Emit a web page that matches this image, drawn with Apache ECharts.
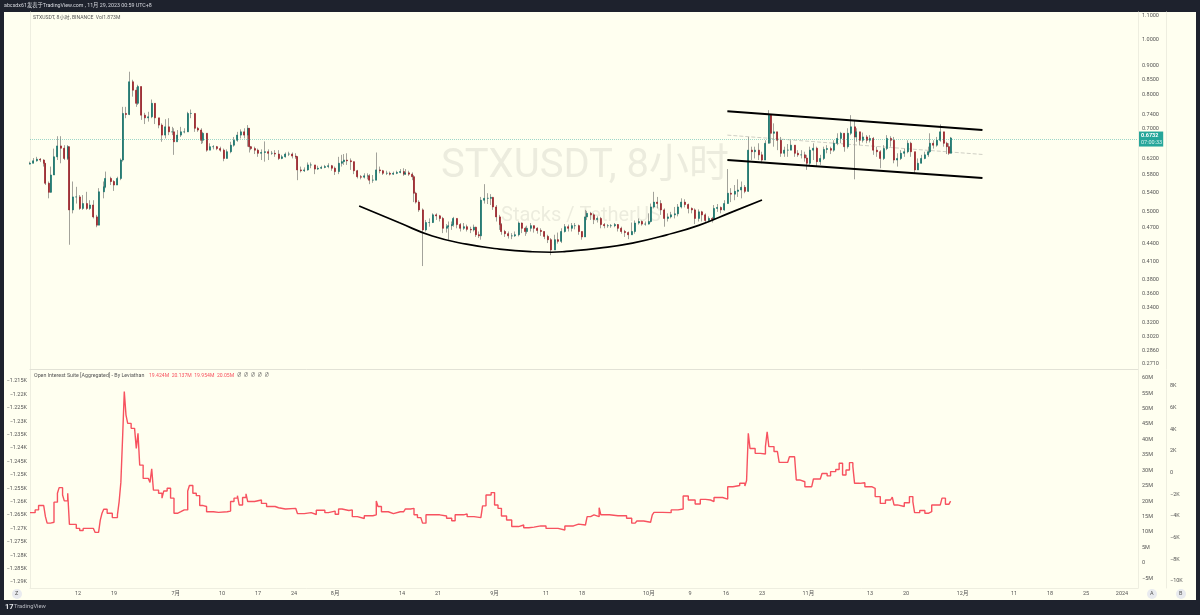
<!DOCTYPE html>
<html><head><meta charset="utf-8">
<style>html,body{margin:0;padding:0;width:1200px;height:615px;background:#1e222d;overflow:hidden}
#pane{position:absolute;left:4px;top:12px;width:1192px;height:588px;background:#fffff0}
#c{position:absolute;left:0;top:0;width:1200px;height:615px}</style>
<script src="https://cdn.jsdelivr.net/npm/echarts@6/dist/echarts.min.js"></script>
</head><body><div id="pane"></div><div id="c"></div>
<script>
// 8-hour bar numbers counted from the first bar
const barIndex=[0,2,4,6,8,9,11,12,14,16,
18,20,22,23,25,27,29,31,33,35,
37,39,40,43,44,47,49,51,53,54,
56,58,60,62,63,65,67,69,71,73,
75,77,79,81,83,84,86,88,90,92,
94,96,98,100,101,103,105,107,109,111,
113,115,117,119,121,123,125,127,128,129,
131,133,135,137,139,141,143,145,147,149,
151,153,155,156,158,160,162,164,166,168,
170,172,174,176,178,180,182,183,185,187,
189,191,193,195,197,198,200,202,204,206,
208,210,212,214,216,218,219,221,223,224,
225,227,229,231,233,235,237,239,241,243,
244,246,247,249,251,253,255,257,259,260,
262,263,265,267,269,270,272,274,275,277,
279,281,283,285,287,289,290,292,294,296,
298,300,302,304,306,308,310,312,314,316,
318,320,322,324,325,327,329,331,333,335,
337,339,341,343,345,347,349,351,353,355,
357,359,361,362,364,366,368,370,372,374,
376,378,380,382,384,386,388,390,392,394,
396,398,399,401,403,405,407,409,411,413,
415,417,419,421,423,425,427,429,431,432,
434,436,438,440,442,444,446,448,450,452,
453,455,457,459,461,463,465,467,469,471,
473,475,477,479,481,482,484,486,488,490,
492,494,496,498,500,502,504,506,508,510,
512,514,516,518,520,522,524,525,527,529,
531,533,535,536,537];
const closes=[.608,.614,.618,.616,.608,.561,.541,.580,.624,.652,
.646,.620,.650,.504,.531,.531,.507,.517,.507,.514,
.490,.474,.542,.553,.572,.565,.557,.572,.616,.743,
.740,.844,.816,.774,.828,.738,.730,.733,.774,.730,
.709,.681,.704,.690,.690,.663,.681,.690,.690,.743,
.743,.700,.695,.667,.686,.641,.650,.650,.645,.641,
.620,.637,.654,.667,.681,.690,.681,.700,.650,.645,
.641,.633,.635,.637,.633,.633,.631,.620,.624,.631,
.631,.626,.624,.592,.590,.592,.604,.604,.594,.596,
.598,.600,.602,.596,.588,.608,.612,.616,.614,.612,
.590,.576,.575,.578,.578,.568,.568,.592,.590,.584,
.584,.582,.584,.586,.588,.582,.585,.582,.576,.539,
.520,.504,.465,.479,.479,.494,.492,.487,.468,.471,
.473,.475,.487,.475,.468,.471,.466,.465,.470,.456,
.454,.524,.528,.528,.530,.510,.490,.475,.462,.458,
.454,.454,.456,.478,.468,.462,.468,.473,.468,.464,
.462,.453,.447,.429,.447,.444,.462,.471,.468,.473,
.473,.462,.452,.490,.497,.494,.485,.487,.475,.473,
.473,.473,.475,.468,.462,.460,.456,.462,.478,.481,
.476,.476,.481,.510,.520,.517,.504,.487,.490,.494,
.496,.510,.520,.515,.507,.504,.487,.500,.494,.483,
.487,.485,.507,.509,.504,.517,.539,.537,.543,.546,
.552,.543,.641,.637,.641,.629,.616,.659,.738,.686,
.690,.667,.633,.641,.641,.654,.633,.629,.629,.621,
.608,.641,.646,.612,.620,.643,.645,.641,.659,.672,
.686,.650,.686,.704,.676,.690,.667,.676,.667,.672,
.641,.637,.620,.645,.672,.667,.616,.620,.633,.637,
.659,.637,.592,.608,.620,.629,.637,.659,.654,.667,
.690,.659,.650,.633,.6732];
const highs=[.612,.621,.624,.621,.618,.608,.565,.600,.645,.678,
.678,.654,.654,.624,.565,.553,.535,.535,.542,.524,
.524,.494,.550,.565,.588,.576,.568,.576,.620,.763,
.763,.879,.851,.826,.834,.828,.745,.748,.786,.774,
.729,.714,.726,.729,.704,.700,.695,.704,.700,.748,
.755,.743,.704,.700,.690,.686,.659,.654,.652,.650,
.645,.643,.663,.676,.690,.697,.700,.709,.700,.652,
.650,.645,.643,.664,.643,.639,.641,.641,.629,.635,
.637,.635,.633,.626,.600,.598,.610,.610,.602,.602,
.602,.604,.608,.604,.600,.624,.629,.631,.633,.620,
.612,.592,.580,.584,.584,.582,.580,.635,.600,.592,
.590,.588,.588,.590,.594,.596,.594,.590,.586,.580,
.542,.524,.507,.484,.487,.497,.497,.494,.490,.476,
.481,.481,.490,.487,.478,.478,.475,.471,.475,.471,
.462,.531,.559,.539,.537,.531,.514,.494,.478,.465,
.462,.459,.462,.481,.479,.471,.473,.478,.473,.470,
.468,.462,.456,.450,.456,.460,.468,.476,.475,.478,
.478,.475,.462,.504,.502,.500,.497,.491,.490,.478,
.476,.476,.478,.476,.471,.465,.462,.479,.483,.487,
.483,.481,.497,.517,.542,.531,.524,.507,.497,.500,
.510,.516,.528,.526,.517,.509,.507,.505,.502,.497,
.491,.490,.514,.516,.511,.524,.594,.550,.557,.570,
.565,.557,.676,.650,.650,.659,.637,.667,.753,.738,
.714,.690,.676,.650,.657,.667,.654,.641,.641,.637,
.629,.650,.659,.650,.629,.650,.654,.650,.667,.686,
.690,.686,.700,.738,.724,.700,.690,.688,.681,.681,
.676,.650,.641,.654,.681,.678,.676,.633,.641,.645,
.667,.663,.633,.620,.629,.637,.650,.686,.667,.676,
.711,.690,.663,.659,.676];
const lows=[.605,.608,.612,.611,.600,.557,.528,.540,.580,.616,
.608,.616,.616,.438,.497,.517,.504,.504,.504,.504,
.487,.470,.474,.528,.550,.557,.544,.557,.568,.612,
.729,.738,.795,.763,.769,.724,.712,.719,.729,.712,
.700,.663,.672,.681,.681,.629,.672,.676,.686,.690,
.729,.690,.690,.657,.659,.637,.643,.643,.641,.637,
.613,.620,.633,.650,.663,.672,.672,.650,.635,.641,
.631,.624,.616,.612,.616,.629,.624,.616,.618,.622,
.626,.620,.619,.568,.586,.587,.590,.596,.582,.592,
.594,.596,.596,.590,.580,.582,.600,.604,.604,.592,
.582,.572,.570,.572,.570,.559,.562,.568,.584,.580,
.580,.579,.580,.582,.584,.578,.580,.578,.568,.520,
.517,.500,.402,.462,.471,.478,.484,.481,.459,.460,
.447,.465,.471,.468,.462,.465,.462,.459,.462,.452,
.450,.447,.517,.516,.514,.504,.481,.465,.456,.452,
.449,.448,.452,.453,.459,.454,.458,.462,.460,.458,
.454,.448,.441,.420,.438,.440,.441,.460,.462,.462,
.466,.456,.447,.452,.484,.484,.476,.479,.468,.468,
.469,.469,.470,.462,.458,.452,.448,.456,.458,.475,
.473,.473,.475,.479,.507,.507,.494,.471,.481,.487,
.487,.491,.507,.509,.497,.497,.476,.481,.481,.478,
.481,.479,.483,.500,.497,.502,.517,.520,.524,.531,
.528,.539,.542,.616,.620,.616,.608,.616,.659,.659,
.650,.641,.624,.624,.624,.641,.624,.624,.620,.612,
.592,.604,.616,.600,.604,.616,.633,.631,.637,.654,
.659,.637,.645,.681,.570,.663,.654,.661,.659,.661,
.629,.624,.596,.616,.641,.650,.608,.600,.616,.624,
.633,.624,.584,.592,.608,.618,.624,.633,.645,.650,
.663,.650,.631,.629,.633];
const firstOpen=.606;
const lastPrice=.6732;

// Open interest (millions): bar number and value
const oiBar=[0,3,5,8,9,10,12,14,16,17,19,20,22,23,25,27,29,31,34,37,
38,40,41,42,43,45,48,51,52,53,54,55,56,57,59,61,62,63,64,66,
69,70,71,72,75,77,78,80,82,84,86,88,90,92,93,95,97,99,101,103,
107,110,115,117,119,121,122,124,126,127,131,135,138,143,145,149,155,156,160,164,
167,172,174,178,180,182,186,188,191,195,200,202,203,205,209,212,216,218,219,222,
224,226,228,229,231,235,239,243,246,248,253,255,259,263,264,266,269,271,273,275,
278,281,285,288,291,294,298,301,305,308,312,317,320,324,325,327,329,332,333,338,
343,348,351,353,354,358,362,363,364,369,374,378,381,384,388,391,394,397,399,404,
407,410,414,417,418,419,420,423,426,429,430,431,434,436,437,442,443,446,447,449,
450,452,456,457,461,462,465,467,470,472,474,476,478,480,481,484,487,491,493,496,
499,502,503,504,506,510,513,515,516,519,522,524,526,531,532,534,536,537];
const oiValues=[16.3,17.2,18.6,18.3,15.0,12.9,13.2,19.7,22.6,24.4,22.0,20.1,22.6,12.5,12.5,11.2,10.5,11.2,11.2,11.4,
9.9,9.8,13.9,16.1,17.4,16.1,14.7,15.6,19.9,26.1,40.4,55.5,47.9,45.2,43.6,43.1,37.1,42.0,31.7,27.4,
27.4,26.1,30.5,23.6,22.6,21.0,23.3,24.2,21.0,16.1,16.6,17.2,17.2,23.3,25.1,22.6,21.8,18.6,18.3,16.6,
16.4,16.6,16.8,19.9,21.0,21.8,18.8,21.2,22.4,19.9,20.4,19.3,18.3,17.9,17.5,17.7,18.0,16.0,16.3,15.7,
17.1,16.3,16.8,15.8,17.5,17.0,17.2,15.0,14.4,15.3,15.6,20.1,18.3,16.6,16.0,16.6,16.6,16.6,17.5,17.7,
15.6,14.7,15.0,12.9,15.6,15.6,15.2,14.5,13.7,15.6,15.9,15.0,14.7,14.5,18.5,22.0,22.8,18.8,17.7,15.2,
13.9,11.8,12.3,11.4,11.6,12.0,12.0,11.2,11.2,10.7,12.0,12.6,12.3,12.0,15.0,15.6,15.0,17.9,15.6,15.3,
15.3,14.5,12.9,12.6,13.6,13.2,12.9,15.6,16.4,16.3,17.2,17.5,21.7,20.4,19.1,20.6,20.4,19.9,21.2,20.7,
24.7,25.1,25.8,24.9,26.7,42.0,37.1,35.5,35.3,37.7,42.5,37.7,36.1,36.6,32.6,32.8,34.4,33.9,26.9,26.3,
26.3,24.7,24.4,27.2,26.6,29.0,28.2,29.6,30.3,32.3,28.5,30.1,32.5,31.2,25.8,26.0,24.7,24.2,21.5,19.3,
20.4,20.2,21.3,18.8,18.3,19.5,21.5,19.9,16.3,17.0,16.1,16.6,18.8,18.8,21.0,19.0,18.5,20.05];

// Drawn trend lines (bar number, price)
const curveBars=[192,215.5,234.7,254.6,273.8,293,304,312.9,332,351.4,371,390.5,409.7,427];
const curvePrices=[.512,.4785,.4536,.439,.4304,.4258,.425,.4265,.4322,.441,.4554,.4741,.5,.5243];
const channelBars=[406.8,555.6];
const channelUpper=[.750,.695];
const channelLower=[.616,.573];
const channelMiddle=[.681,.630];

// Axis ticks
const priceTicks=[1.1,1,.9,.85,.8,.74,.7,.62,.58,.54,.5,.47,.44,.41,.38,.36,.34,.32,.302,.286,.271];
const leftTicks=[-1215,-1220,-1225,-1230,-1235,-1240,-1245,-1250,-1255,-1260,-1265,-1270,-1275,-1280,-1285,-1290];
const leftLabels=['1.215K','1.22K','1.225K','1.23K','1.235K','1.24K','1.245K','1.25K','1.255K','1.26K','1.265K','1.27K','1.275K','1.28K','1.285K','1.29K'];
const oiTicks=[60,55,50,45,40,35,30,25,20,15,10,5,0,-5];
const bTicks=[8,6,4,2,0,-2,-4,-6,-8,-10];
// Time ticks, as 8-hour bar numbers (bar 0 opens 2023-06-02 16:00), with their labels
const timeTicks=[28,49,85,112,133,154,178,217,238,271,301,322,361,385,406,427,454,490,511,544,574,595,616,637];
const timeLabels=['12','19','7月','10','17','24','8月','14','21','9月','11','18','10月','9','16','23','11月','13','20','12月','11','18','25','2024'];
const xMin=0, xMax=646.33;

const ln=Math.log;
const wickData=barIndex.map((k,i)=>[k,ln(lows[i]),ln(highs[i]),ln(lows[i]),ln(highs[i])]);
const bodyData=barIndex.map((k,i)=>{const o=i?closes[i-1]:firstOpen,c=closes[i];
  return [k,ln(o),ln(c),ln(Math.min(o,c)),ln(Math.max(o,c))];});
const oiData=oiBar.map((k,i)=>[k,oiValues[i]]);
const pts=(xs,ys)=>xs.map((k,i)=>[k,ln(ys[i])]);

const FONT='Roboto, "Noto Sans CJK SC", sans-serif', AX='#555', LINE='#eeeee0', FS=5.5;
const blackLine=(name,data,extra)=>Object.assign({name,type:'line',xAxisIndex:0,yAxisIndex:0,data,symbol:'none',silent:true,z:6,lineStyle:{color:'#000',width:2}},extra||{});

const chart=echarts.init(document.getElementById('c'),null,{renderer:'canvas'});
chart.setOption({
  animation:false,backgroundColor:'transparent',textStyle:{fontFamily:FONT},
  grid:[{left:30,right:62,top:12,height:357},{left:30,right:62,top:370,height:218}],
  xAxis:[
   {type:'value',gridIndex:0,min:xMin,max:xMax,axisLine:{show:true,onZero:false,lineStyle:{color:'#e2e2d6'}},axisTick:{show:false},axisLabel:{show:false},splitLine:{show:false}},
   {type:'value',gridIndex:1,min:xMin,max:xMax,axisLine:{show:true,onZero:false,lineStyle:{color:LINE}},axisTick:{show:false},splitLine:{show:false},
    axisLabel:{customValues:timeTicks,formatter:v=>timeLabels[timeTicks.indexOf(v)],fontSize:FS,color:AX,margin:3,fontFamily:FONT}}
  ],
  yAxis:[
   {type:'value',gridIndex:0,position:'right',min:-1.3257,max:0.1114,splitLine:{show:false},axisTick:{show:false},
    axisLine:{show:true,onZero:false,lineStyle:{color:LINE}},
    axisLabel:{customValues:priceTicks.map(ln),formatter:v=>Math.exp(v).toFixed(4),fontSize:FS,color:AX,margin:4,fontFamily:FONT}},
   {type:'value',gridIndex:1,position:'right',min:-8.1,max:62.5,splitLine:{show:false},axisTick:{show:false},
    axisLine:{show:true,onZero:false,lineStyle:{color:LINE}},
    axisLabel:{customValues:oiTicks,formatter:v=>v===0?'0':(v<0?'−':'')+Math.abs(v)+'M',fontSize:FS,color:AX,margin:4,fontFamily:FONT}},
   {type:'value',gridIndex:1,position:'right',offset:28,min:-10.667,max:9.473,splitLine:{show:false},axisTick:{show:false},
    axisLine:{show:true,onZero:false,lineStyle:{color:LINE}},
    axisLabel:{customValues:bTicks,formatter:v=>v===0?'0':(v<0?'−':'')+Math.abs(v)+'K',fontSize:FS,color:AX,margin:4,fontFamily:FONT}},
   {type:'value',gridIndex:1,position:'left',min:-1292.2,max:-1210.9,splitLine:{show:false},axisTick:{show:false},
    axisLine:{show:true,onZero:false,lineStyle:{color:LINE}},
    axisLabel:{customValues:leftTicks,formatter:v=>'−'+leftLabels[leftTicks.indexOf(v)],fontSize:FS,color:AX,margin:3,fontFamily:FONT}},
   {type:'value',gridIndex:0,position:'left',min:-1.3257,max:0.1114,splitLine:{show:false},axisTick:{show:false},axisLabel:{show:false},
    axisLine:{show:true,onZero:false,lineStyle:{color:LINE}}},
   {type:'value',gridIndex:0,position:'right',offset:28,min:-1.3257,max:0.1114,splitLine:{show:false},axisTick:{show:false},axisLabel:{show:false},
    axisLine:{show:true,onZero:false,lineStyle:{color:LINE}}}
  ],
  series:[
   {name:'wicks',type:'candlestick',layout:'horizontal',xAxisIndex:0,yAxisIndex:0,data:wickData,barWidth:1,silent:true,z:3,
    itemStyle:{color:'#a3a39b',color0:'#a3a39b',borderColor:'#a3a39b',borderColor0:'#a3a39b',borderWidth:1}},
   {name:'STXUSDT',type:'candlestick',layout:'horizontal',xAxisIndex:0,yAxisIndex:0,data:bodyData,barWidth:1.6,silent:true,z:4,
    itemStyle:{color:'#14736b',color0:'#9b1f26',borderColor:'#14736b',borderColor0:'#9b1f26',borderWidth:0.7},
    markLine:{silent:true,symbol:'none',animation:false,data:[{yAxis:ln(lastPrice)}],
      lineStyle:{type:'dotted',color:'rgba(38,166,154,0.45)',width:1},
      label:{show:true,position:'end',distance:1,backgroundColor:'#26a69a',padding:[1,1,1,2],lineHeight:6.5,opacity:1,
        formatter:'{a|0.6732}\n{b|07:00:33}',rich:{a:{color:'#fff',fontSize:5.5,fontWeight:'bold',fontFamily:FONT},b:{color:'#d6f1ee',fontSize:5.5,fontFamily:FONT}}}}},
   blackLine('bowl',pts(curveBars,curvePrices),{smooth:true,lineStyle:{color:'#000',width:1.7}}),
   blackLine('channel upper',pts(channelBars,channelUpper)),
   blackLine('channel lower',pts(channelBars,channelLower)),
   blackLine('channel middle',pts(channelBars,channelMiddle),{z:3,lineStyle:{color:'#cfcfc4',width:1,type:'dashed'}}),
   {name:'Open Interest',type:'line',xAxisIndex:1,yAxisIndex:1,data:oiData,step:'end',symbol:'none',silent:true,z:4,
    lineStyle:{color:'#f7525f',width:1.4}}
  ],
  graphic:[
   {type:'text',left:441,top:147,z:0,silent:true,style:{text:'STXUSDT, 8小时',fontSize:40,fontFamily:FONT,fill:'rgba(120,120,110,0.14)'}},
   {type:'text',left:501,top:206,z:0,silent:true,style:{text:'Stacks / TetherUS',fontSize:20,fontFamily:FONT,fill:'rgba(120,120,110,0.14)'}},
   {type:'text',left:4,top:3,silent:true,style:{text:'abcsdx61发表于TradingView.com , 11月 29, 2023 00:59 UTC+8',fontSize:5.3,fontFamily:FONT,fill:'#d8dae0'}},
   {type:'text',left:33,top:15,silent:true,style:{text:'STXUSDT, 8小时, BINANCE  Vol1.873M',fontSize:5.1,fontFamily:FONT,fill:'#555'}},
   {type:'text',left:34,top:373,silent:true,style:{text:'Open Interest Suite [Aggregated] - By Leviathan',fontSize:5.3,fontFamily:FONT,fill:'#555'}},
   {type:'text',left:149,top:373,silent:true,style:{text:'19.424M  20.137M  19.954M  20.05M',fontSize:5.1,fontFamily:FONT,fill:'#f7525f'}},
   {type:'text',left:237,top:373,silent:true,style:{text:'∅  ∅  ∅  ∅  ∅',fontSize:4.6,fontFamily:FONT,fill:'#555'}},
   {type:'circle',shape:{cx:17,cy:594,r:5},silent:true,style:{fill:'#e9ebef'}},
   {type:'text',left:15,top:591,silent:true,style:{text:'Z',fontSize:5.5,fontFamily:FONT,fill:'#555'}},
   {type:'circle',shape:{cx:1152,cy:594,r:5},silent:true,style:{fill:'#e9ebef'}},
   {type:'text',left:1150,top:591,silent:true,style:{text:'A',fontSize:5.5,fontFamily:FONT,fill:'#555'}},
   {type:'circle',shape:{cx:1181,cy:594,r:5},silent:true,style:{fill:'#e9ebef'}},
   {type:'text',left:1179,top:591,silent:true,style:{text:'B',fontSize:5.5,fontFamily:FONT,fill:'#555'}},
   {type:'text',left:5,top:603,silent:true,style:{text:'17',fontSize:7.5,fontWeight:'bold',fontFamily:FONT,fill:'#e6e8ec'}},
   {type:'text',left:14,top:604,silent:true,style:{text:'TradingView',fontSize:5.8,fontFamily:FONT,fill:'#b8bbc2'}}
  ]
});
</script></body></html>
